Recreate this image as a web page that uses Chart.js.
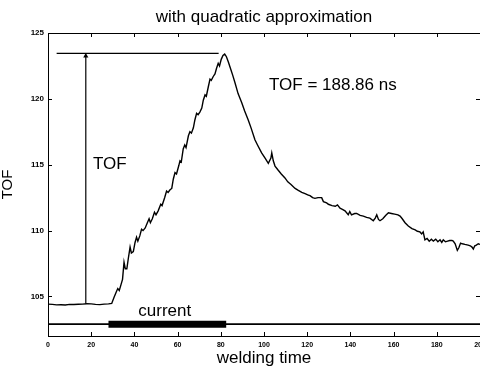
<!DOCTYPE html>
<html>
<head>
<meta charset="utf-8">
<script src="https://cdn.jsdelivr.net/npm/chart.js@4.4.1/dist/chart.umd.min.js"></script>
<style>
html,body{margin:0;padding:0;background:#fff;}
#wrap{width:480px;height:368px;position:relative;}
</style>
</head>
<body>
<div id="wrap"><canvas id="c" width="480" height="368"></canvas></div>
<script>
// ---- data ----
const timeValues = [0,2,4,6,8,10,12,14,16,18,20,22,24,26,28,29.5,
 30.5,31.5,32.3,33,33.8,34.5,35.2,35.8,36.5,37.2,38,38.6,39.5,40.3,41,41.6,42.5,43.3,44,45,46,46.8,47.4,48.3,49.3,50,51,52.2,52.8,54,54.9,55.6,56.5,57.3,58,58.8,59.5,60.5,61.1,61.7,62.6,63.3,63.9,65,65.7,66.4,67.3,68,68.8,69.5,70.3,71.2,71.9,72.7,73.3,74.2,75,75.6,76.5,77.3,78,78.8,79.4,80.2,81,81.8,
 82.6,83.5,84.3,85.5,86.6,88,89.7,91,92.7,94,95.8,97,98.9,100.5,102,103.2,103.6,104.3,105.1,106.5,108,109.7,111,112.5,114.4,115.9,117.5,119,120.5,121.3,122.5,123.6,125,126.7,127.5,129,129.8,131.5,133,134,135.2,136.5,137.5,139,139.7,140.5,142,142.9,144.5,146,147.5,149,150.6,151.5,152.2,153,153.7,155,156.3,157.6,159,160.5,162,163,164,165.3,166.8,168.5,170,171,172.2,173,173.7,174.5,175.5,176.5,177.5,178.4,179.5,180.5,181.5,182.3,183,184,185,186,187,187.6,188.5,189.5,190.2,191,191.8,193,194.5,195.5,196.3,196.9,197.6,198.3,199.2,200];
const tofValues = [104.42,104.40,104.36,104.37,104.35,104.40,104.39,104.41,104.42,104.45,104.44,104.40,104.38,104.42,104.44,104.47,
 104.9,105.3,105.6,105.45,105.9,106.3,107.6,107.1,107.1,107.9,108.75,108.3,108.4,109.1,109.5,109.2,109.6,110.1,110.0,110.2,110.6,110.9,110.6,110.9,111.4,111.2,111.5,112.0,111.9,112.5,113.0,112.9,113.1,113.2,113.9,114.4,114.3,114.9,115.3,115.2,116.2,116.5,116.3,117.2,117.5,117.4,117.8,118.4,118.9,118.8,119.0,119.3,119.9,120.3,120.2,120.9,121.5,121.4,121.7,121.9,122.3,122.7,122.5,123.0,123.3,123.4,
 123.2,122.8,122.4,121.8,121.2,120.4,119.7,119.1,118.4,117.8,116.9,116.5,115.9,115.5,115.1,115.5,115.9,115.3,114.9,114.6,114.3,114.0,113.7,113.5,113.2,113.05,112.9,112.8,112.7,112.65,112.5,112.45,112.5,112.5,112.2,112.1,112.0,111.9,111.85,111.95,111.7,111.6,111.5,111.2,111.45,111.2,111.3,111.3,111.15,111.1,111.0,110.95,110.75,110.95,111.2,110.85,110.75,110.9,111.15,111.35,111.3,111.25,111.2,111.1,110.9,110.6,110.35,110.15,110.05,109.95,109.9,109.75,109.9,109.3,109.4,109.2,109.35,109.2,109.35,109.15,109.3,109.1,109.3,109.15,109.2,109.25,109.25,109.2,109.0,108.5,108.7,109.05,109.0,108.95,108.9,108.85,108.75,108.6,108.85,108.9,109.0,108.95];
const xTicks = [0,20,40,60,80,100,120,140,160,180,200];
const yTicks = [105,110,115,120,125];
const tofLevelX = [4, 79];     // horizontal marker at peak level
const tofLevelY = 123.45;
const arrowX = 17.5;
const arrowY = [104.45, 123.25];
const currentLevel = 102.9;
const currentAllX = [0, 200];
const currentOnX = [28, 82.5];

const pts = timeValues.map((t,i)=>({x:t,y:tofValues[i]}));
const FONT = "'Liberation Sans', Arial, Helvetica, sans-serif";

const inwardTicks = {
  id:'inwardTicks',
  afterDatasetsDraw(chart){
    const ctx = chart.ctx, a = chart.chartArea;
    const xs = chart.scales.x, ys = chart.scales.y;
    ctx.save();
    ctx.strokeStyle = '#000';
    ctx.lineWidth = 1;
    ctx.beginPath();
    ctx.moveTo(a.left, a.top+0.5); ctx.lineTo(a.right, a.top+0.5);
    xTicks.forEach(v=>{
      const p = Math.round(xs.getPixelForValue(v))+0.5;
      ctx.moveTo(p, a.bottom); ctx.lineTo(p, a.bottom-4);
      ctx.moveTo(p, a.top); ctx.lineTo(p, a.top+4);
    });
    yTicks.forEach(v=>{
      const p = Math.round(ys.getPixelForValue(v))+0.5;
      ctx.moveTo(a.left, p); ctx.lineTo(a.left+4, p);
      ctx.moveTo(a.right, p); ctx.lineTo(a.right-4, p);
    });
    ctx.stroke();
    ctx.fillStyle = '#000';
    ctx.textBaseline = 'middle';
    ctx.font = "17px " + FONT;
    ctx.textAlign = 'left';
    ctx.fillText('TOF = 188.86 ns', xs.getPixelForValue(102.3), ys.getPixelForValue(121.0));
    ctx.fillText('TOF', xs.getPixelForValue(20.8), ys.getPixelForValue(115.0));
    ctx.fillText('current', xs.getPixelForValue(41.8), ys.getPixelForValue(103.85));
    ctx.restore();
  }
};

new Chart(document.getElementById('c'), {
  type:'line',
  data:{
    datasets:[
      {data:pts, borderColor:'#000', borderWidth:1.4, pointRadius:0, tension:0},
      {data:tofLevelX.map(x=>({x, y:tofLevelY})), borderColor:'#000', borderWidth:1.2, pointRadius:0},
      {data:[{x:arrowX,y:arrowY[0]},{x:arrowX,y:arrowY[1]}], borderColor:'#000', borderWidth:1.2,
       pointRadius:[0,3], pointStyle:'triangle', pointBackgroundColor:'#000', pointBorderColor:'#000', pointBorderWidth:0},
      {data:currentAllX.map(x=>({x, y:currentLevel})), borderColor:'#000', borderWidth:1.6, pointRadius:0},
      {data:currentOnX.map(x=>({x, y:currentLevel})), borderColor:'#000', borderWidth:7, pointRadius:0, borderCapStyle:'butt'}
    ]
  },
  options:{
    responsive:false, animation:false, devicePixelRatio:1,
    layout:{autoPadding:false, padding:{left:0,right:0,top:0,bottom:0}},
    plugins:{
      legend:{display:false}, tooltip:{enabled:false},
      title:{display:true, fullSize:false, text:'with quadratic approximation', color:'#000',
        font:{family:FONT, size:17, weight:'normal', lineHeight:1.2}, padding:{top:7, bottom:5.6}}
    },
    scales:{
      x:{type:'linear', min:0, max:200,
        afterBuildTicks(s){ s.ticks = xTicks.map(v=>({value:v})); },
        afterFit(s){ s.height = 32; s.paddingLeft = 0; s.paddingRight = 0; },
        grid:{display:true, drawOnChartArea:false, drawTicks:false, color:'#000'},
        border:{display:true, color:'#000', width:1},
        ticks:{color:'#000', padding:5, maxRotation:0, autoSkip:false, font:{family:FONT, size:7, weight:'bold'}},
        title:{display:true, text:'welding time', color:'#000', padding:{top:0,bottom:0}, font:{family:FONT, size:17, lineHeight:1.1}}
      },
      y:{type:'linear', min:102, max:125,
        afterBuildTicks(s){ s.ticks = yTicks.map(v=>({value:v})); },
        afterFit(s){ s.width = 48; s.paddingTop = 0; s.paddingBottom = 0; },
        grid:{display:true, drawOnChartArea:false, drawTicks:false, color:'#000'},
        border:{display:true, color:'#000', width:1},
        ticks:{color:'#000', padding:4, autoSkip:false, font:{family:FONT, size:8, weight:'bold'}},
        title:{display:true, text:'TOF', color:'#000', padding:{top:0,bottom:6}, font:{family:FONT, size:15, lineHeight:1.1}}
      }
    }
  },
  plugins:[inwardTicks]
});
</script>
</body>
</html>
